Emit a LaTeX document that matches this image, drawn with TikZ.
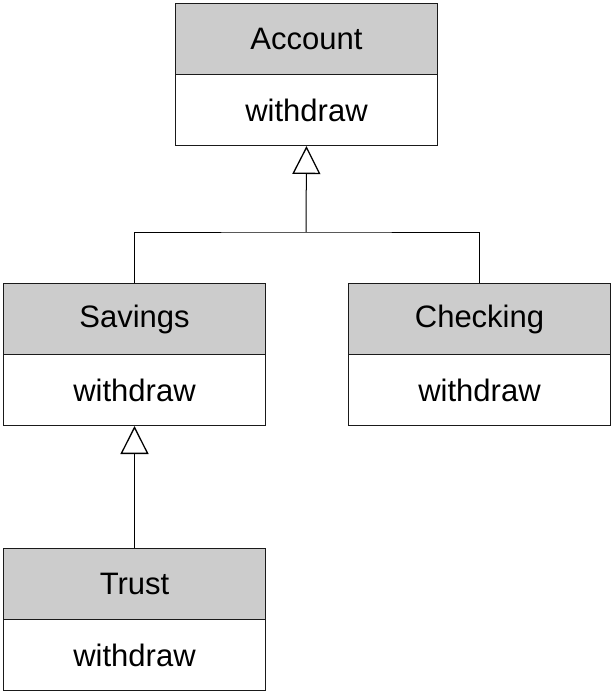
\documentclass[tikz,border=0pt]{standalone}
\usepackage{fontspec}
\setmainfont{Liberation Sans}
\usetikzlibrary{arrows.meta}
\definecolor{hdrgray}{HTML}{CCCCCC}
\definecolor{linegray}{HTML}{1A1A1A}
\tikzset{
  box/.style={draw=linegray, line width=1pt, minimum width=262pt, minimum height=71pt, inner sep=0pt, anchor=north west, font=\fontsize{31}{37}\selectfont, text=black},
  hdr/.style={box, fill=hdrgray},
  bdy/.style={box, fill=white},
  conn/.style={draw=black, line width=1pt},
  inh/.style={conn, -{Triangle[open, width=28pt, length=28pt, line width=1.3pt]}}
}
\begin{document}
\begin{tikzpicture}[x=1pt, y=-1pt]
\useasboundingbox (0,0) rectangle (613,695);
% Account
\node[hdr] (acch) at (175,3) {Account};
\node[bdy] (accb) at (175,74) {withdraw};
% Savings
\node[hdr] (savh) at (3,283) {Savings};
\node[bdy] (savb) at (3,354) {withdraw};
% Checking
\node[hdr] (chkh) at (348,283) {Checking};
\node[bdy] (chkb) at (348,354) {withdraw};
% Trust
\node[hdr] (trh) at (3,548) {Trust};
\node[bdy] (trb) at (3,619) {withdraw};
% connectors
\coordinate (j) at (306,232);
\draw[conn] (savh.north) |- (j) -| (chkh.north);
\draw[inh] (j) -- (accb.south);
\draw[inh] (trh.north) -- (savb.south);
\end{tikzpicture}
\end{document}
